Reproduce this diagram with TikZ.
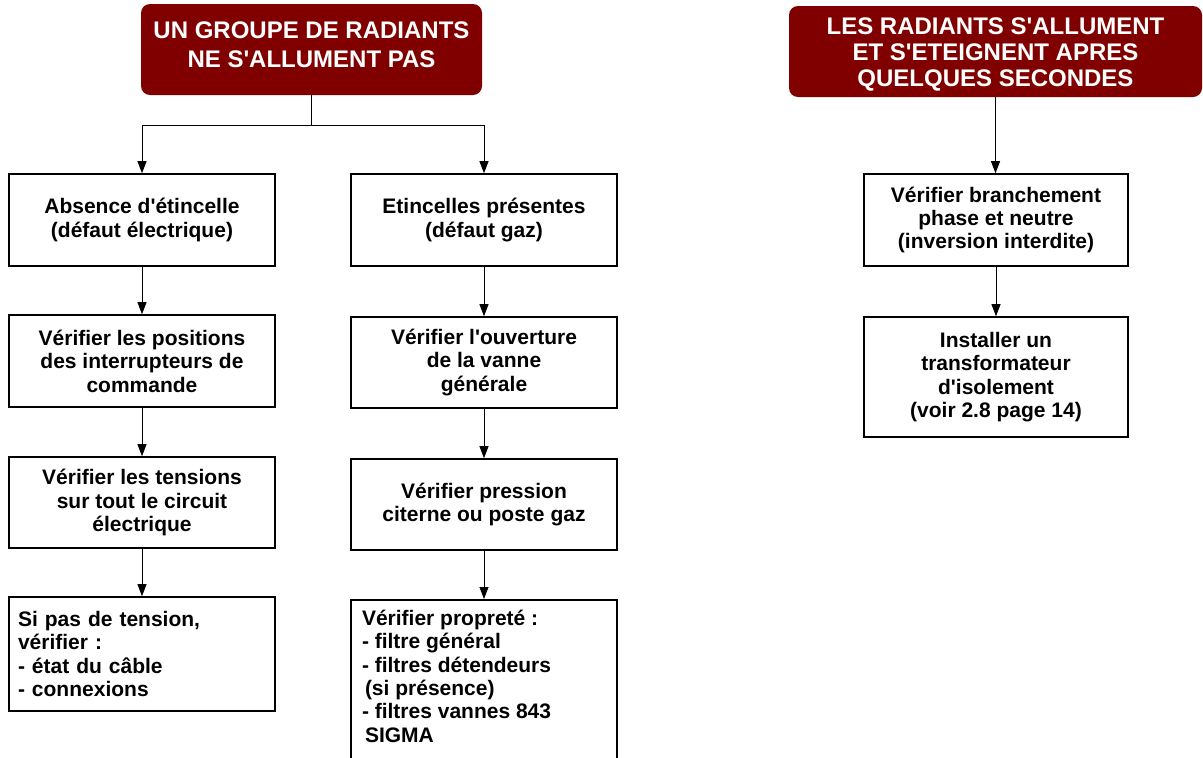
\documentclass[tikz,border=0pt]{standalone}
\usepackage{fontspec}
\setmainfont{Liberation Sans}[Ligatures=TeXOff]
\usetikzlibrary{arrows.meta}
\definecolor{hdr}{RGB}{128,0,0}
\newcommand\bxfont{\fontsize{21}{23.4}\selectfont\bfseries}
\newcommand\hdfontA{\fontsize{24}{29}\selectfont\bfseries}
\newcommand\hdfontB{\fontsize{24}{26.3}\selectfont\bfseries}
\begin{document}
\begin{tikzpicture}[x=1pt,y=-1pt,
  box/.style={draw=black, line width=1.6pt, fill=white, minimum width=266pt,
    minimum height=92pt, inner sep=0pt, align=center, font=\bxfont},
  leftbox/.style={box, align=left, inner xsep=9pt, text width=248pt},
  hdrbox/.style={fill=hdr, rounded corners=9pt, text=white, align=center,
    inner sep=0pt, minimum height=91pt},
  conn/.style={draw=black, line width=0.8pt, -{Triangle[length=12pt,width=9pt]}},
  plainconn/.style={draw=black, line width=0.8pt}]
\clip (0,0) rectangle (1203,758);
\fill[white] (0,0) rectangle (1203,758);

% headers
\node[hdrbox, minimum width=341pt, font=\hdfontA, text depth=10.6pt] (H1) at (311.5,49.5)
  {UN GROUPE DE RADIANTS\\NE S'ALLUMENT PAS};
\node[hdrbox, minimum width=413pt, font=\hdfontB, text height=75pt] (H2) at (995.5,51.5)
  {LES RADIANTS S'ALLUMENT\\ET S'ETEIGNENT APRES\\QUELQUES SECONDES};

% left column
\node[box] (A1) at (142,220) {Absence d'étincelle\\(défaut électrique)};
\node[box] (A2) at (142,361) {Vérifier les positions\\des interrupteurs de\\commande};
\node[box, minimum height=91pt] (A3) at (142,502.5) {Vérifier les tensions\\sur tout le circuit\\électrique};
\node[leftbox, minimum height=114pt] (A4) at (142,654) {Si pas de tension,\\vérifier :\\- état du câble\\- connexions};

% middle column
\node[box] (B1) at (484,220) {Etincelles présentes\\(défaut gaz)};
\node[box, minimum height=91pt] (B2) at (484,362.5) {Vérifier l'ouverture\\de la vanne\\générale};
\node[box, minimum height=91pt] (B3) at (484,504.5) {Vérifier pression\\citerne ou poste gaz};
\node[box, anchor=north, inner xsep=11pt, inner ysep=10pt] (B4) at (484,599)
  {\parbox[c][175pt][t]{244pt}{\raggedright\bxfont
   Vérifier propreté :\\
   - filtre général\\
   - filtres détendeurs\\
   \hspace*{3pt}(si présence)\\
   - filtres vannes 843\\
   \hspace*{3pt}SIGMA}};

% right column
\node[box, minimum width=264pt] (C1) at (996,220) {Vérifier branchement\\phase et neutre\\(inversion interdite)};
\node[box, minimum width=264pt, minimum height=120pt] (C2) at (996,377) {Installer un\\transformateur\\d'isolement\\(voir 2.8 page 14)};

% connectors
\coordinate (J) at (311.5,125);
\draw[plainconn] (H1.south) -- (J);
\draw[conn] (J) -| (A1.north);
\draw[conn] (J) -| (B1.north);
\draw[conn] (A1) -- (A2);
\draw[conn] (A2) -- (A3);
\draw[conn] (A3) -- (A4);
\draw[conn] (B1) -- (B2);
\draw[conn] (B2) -- (B3);
\draw[conn] (B3) -- (B4);
\draw[conn] (H2.south) -- (H2.south |- C1.north);
\draw[conn] (C1) -- (C2);
\end{tikzpicture}
\end{document}
